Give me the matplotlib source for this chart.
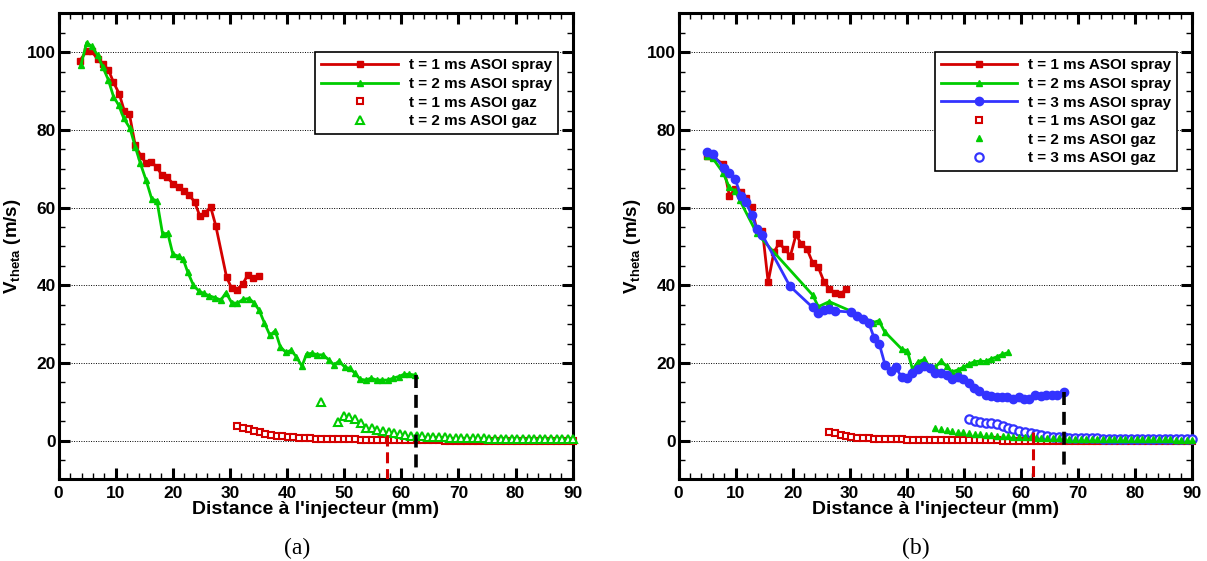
import matplotlib
matplotlib.use("Agg")
import numpy as np
import matplotlib.pyplot as plt
from matplotlib.ticker import MultipleLocator

# 1. DATA

# (a) spray profiles
a_red_spray_x = [3.7, 4.9, 5.8, 6.8, 7.7, 8.7, 9.6, 10.6, 11.5, 12.4, 13.4, 14.4, 15.3, 16.2, 17.2,
                 18.1, 19.0, 20.0, 21.0, 21.9, 22.8, 23.8, 24.7, 25.6, 26.6, 27.5, 29.4, 30.3, 31.2,
                 32.2, 33.1, 34.1, 35.0]
a_red_spray_y = [97.8, 100.4, 100.3, 98.2, 97.0, 95.5, 92.3, 89.3, 84.9, 84.0, 76.1, 73.3, 71.4, 71.8,
                 70.4, 68.3, 67.8, 66.2, 65.4, 64.4, 63.3, 61.5, 57.9, 58.5, 60.2, 55.4, 42.1, 39.2,
                 38.9, 40.3, 42.6, 41.9, 42.4]

a_green_spray_x = [3.9, 4.9, 5.8, 6.8, 7.7, 8.7, 9.6, 10.5, 11.4, 12.5, 13.4, 14.3, 15.3, 16.3, 17.2,
                   18.2, 19.1, 20.0, 21.0, 21.8, 22.6, 23.6, 24.5, 25.4, 26.4, 27.4, 28.4, 29.3, 30.3,
                   31.3, 32.3, 33.3, 34.2, 35.1, 36.0, 37.0, 37.9, 38.8, 39.8, 40.7, 41.6, 42.6, 43.4,
                   44.4, 45.3, 46.3, 47.3, 48.2, 49.1, 50.1, 51.0, 51.9, 52.8, 53.8, 54.7, 55.7, 56.6,
                   57.6, 58.6, 59.5, 60.5, 61.4, 62.3]
a_green_spray_y = [96.7, 102.5, 101.5, 99.3, 96.3, 92.9, 88.6, 86.4, 83.0, 80.4, 75.7, 71.4, 67.1, 62.2,
                   61.8, 53.2, 53.4, 48.0, 47.5, 46.7, 43.4, 40.0, 38.6, 37.9, 37.3, 36.8, 36.2, 38.1,
                   35.5, 35.4, 36.4, 36.6, 35.5, 33.6, 30.4, 27.1, 28.3, 24.2, 22.7, 23.3, 21.6, 19.2,
                   22.3, 22.5, 22.1, 22.1, 20.8, 19.5, 20.5, 18.9, 18.6, 17.3, 15.8, 15.6, 16.1, 15.6,
                   15.6, 15.6, 16.1, 16.5, 17.1, 17.1, 16.9]

# (b) spray profiles
b_red_spray_x = [4.9, 6.0, 7.8, 8.9, 9.9, 10.9, 11.8, 12.8, 13.7, 14.7, 15.7, 16.7, 17.6, 18.6, 19.6,
                 20.6, 21.5, 22.5, 23.5, 24.5, 25.5, 26.4, 27.4, 28.4, 29.4]
b_red_spray_y = [73.4, 73.1, 71.2, 63.1, 64.7, 63.9, 62.4, 60.1, 54.4, 54.1, 40.8, 48.5, 50.8, 49.4,
                 47.6, 53.1, 50.6, 49.4, 45.8, 44.6, 40.9, 39.1, 38.1, 37.8, 39.0]

b_green_spray_x = [4.9, 6.0, 7.8, 8.9, 9.9, 10.7, 13.7, 23.5, 24.5, 26.4, 30.3, 34.1, 35.1, 36.1, 39.1,
                   40.1, 41.0, 42.0, 43.0, 44.0, 45.0, 46.0, 47.0, 47.9, 48.9, 49.9, 50.9, 51.8, 52.8,
                   53.8, 54.7, 55.8, 56.7, 57.8]
b_green_spray_y = [73.3, 72.7, 69.0, 65.2, 64.3, 62.0, 53.4, 37.5, 34.5, 35.8, 33.3, 30.4, 30.9, 28.1,
                   23.6, 23.1, 18.4, 20.3, 20.9, 19.2, 18.9, 20.5, 19.1, 17.7, 18.2, 18.9, 19.7, 20.3,
                   20.5, 20.4, 21.0, 21.6, 22.2, 22.7]

b_blue_spray_x = [4.9, 6.0, 8.0, 8.9, 9.9, 10.9, 11.8, 12.8, 13.7, 14.7, 19.5, 23.5, 24.5, 25.5, 26.4,
                  27.4, 30.3, 31.3, 32.4, 33.3, 34.3, 35.2, 36.2, 37.2, 38.1, 39.1, 40.0, 41.0, 42.0,
                  43.0, 44.1, 45.0, 46.0, 47.0, 47.9, 48.9, 49.9, 50.9, 51.8, 52.7, 53.8, 54.7, 55.8,
                  56.7, 57.6, 58.7, 59.6, 60.6, 61.5, 62.5, 63.5, 64.4, 65.4, 66.4, 67.5]
b_blue_spray_y = [74.2, 73.7, 70.1, 68.8, 67.5, 63.0, 61.5, 58.1, 54.6, 52.9, 39.8, 34.3, 32.8, 33.6,
                  34.0, 33.4, 33.1, 32.1, 31.2, 30.4, 26.4, 24.8, 19.5, 17.9, 18.9, 16.3, 16.1, 17.3,
                  18.4, 19.2, 18.6, 17.3, 17.5, 16.9, 15.8, 16.3, 15.8, 14.9, 13.5, 12.8, 11.8, 11.5,
                  11.2, 11.2, 11.2, 10.8, 11.3, 10.7, 10.7, 11.8, 11.5, 11.7, 11.8, 11.8, 12.4]

# gas-phase probe positions (common grid, mm)
gaz_x = [26.4, 27.4, 28.4, 29.3, 30.3, 31.3, 32.3, 33.3, 34.2, 35.2, 36.2, 37.2, 38.2, 39.1, 40.1,
         41.1, 42.1, 43.1, 44.0, 45.0, 46.0, 47.0, 48.0, 48.9, 49.9, 50.9, 51.9, 52.9, 53.8, 54.8,
         55.8, 56.8, 57.8, 58.7, 59.7, 60.7, 61.7, 62.7, 63.6, 64.6, 65.6, 66.6, 67.6, 68.5, 69.5,
         70.5, 71.5, 72.5, 73.4, 74.4, 75.4, 76.4, 77.4, 78.3, 79.3, 80.3, 81.3, 82.3, 83.2, 84.2,
         85.2, 86.2, 87.2, 88.1, 89.1, 90.0]

# (a) gas values, starting at gaz_x[5] (red) and gaz_x[20] (green)
a_red_gaz_y = [3.9, 3.3, 3.0, 2.6, 2.1, 1.8, 1.5, 1.3, 1.1, 0.95, 0.85, 0.75, 0.7, 0.62, 0.55,
               0.5, 0.45, 0.42, 0.38, 0.35, 0.32, 0.3, 0.28, 0.26, 0.24, 0.22, 0.2, 0.18, 0.16, 0.14,
               0.12, 0.1, 0.08, 0.07, 0.06, 0.05, 0.04, 0.03, 0.02, 0.01, 0.0, 0.0, -0.01, -0.02, -0.03,
               -0.04, -0.05, -0.06, -0.07, -0.08, -0.09, -0.1, -0.1, -0.11, -0.12, -0.13, -0.14, -0.15,
               -0.16, -0.17, -0.18]
a_green_gaz_y = [10.0, np.nan, np.nan, 4.9, 6.4, 6.2, 5.5, 4.5, 3.2, 3.2, 2.7, 2.5, 2.2, 1.9, 1.6,
                 1.5, 1.3, 1.2, 1.1, 1.0, 0.95, 0.9, 0.85, 0.8, 0.75, 0.7, 0.7, 0.65, 0.6, 0.6, 0.55,
                 0.55, 0.5, 0.5, 0.5, 0.45, 0.45, 0.4, 0.4, 0.4, 0.35, 0.35, 0.35, 0.3, 0.3, 0.3]

# (b) gas values, starting at gaz_x[0] (red), gaz_x[19] (green), gaz_x[25] (blue)
b_red_gaz_y = [2.2, 1.9, 1.5, 1.2, 0.95, 0.8, 0.7, 0.6, 0.5, 0.45, 0.4, 0.35, 0.35, 0.3, 0.28, 0.25,
               0.22, 0.2, 0.18, 0.16, 0.15, 0.14, 0.12, 0.11, 0.1, 0.09, 0.08, 0.07, 0.06, 0.05, 0.04,
               0.03, 0.02, 0.01, 0.0, 0.0, -0.02, -0.03, -0.04, -0.05, -0.06, -0.07, -0.08, -0.09,
               -0.1, -0.1, -0.11, -0.12, -0.12, -0.13, -0.14, -0.14, -0.15, -0.15, -0.16, -0.16,
               -0.17, -0.17, -0.18, -0.18, -0.19, -0.19, -0.2, -0.2, -0.2, -0.2]
b_green_gaz_y = [3.2, 2.9, 2.7, 2.5, 2.3, 2.1, 1.9, 1.8, 1.6, 1.5, 1.4, 1.3, 1.2, 1.1, 1.0, 0.95,
                 0.9, 0.85, 0.8, 0.75, 0.7, 0.65, 0.6, 0.6, 0.55, 0.55, 0.5, 0.5, 0.45, 0.45, 0.45,
                 0.4, 0.4, 0.4, 0.35, 0.35, 0.35, 0.35, 0.3, 0.3, 0.3, 0.3, 0.3, 0.25, 0.25, 0.25, 0.25]
b_blue_gaz_y = [5.5, 5.1, 4.9, 4.6, 4.5, 4.2, 3.8, 3.3, 2.9, 2.5, 2.1, 1.9, 1.6, 1.4, 1.2, 1.0, 0.9,
                0.85, 0.8, 0.75, 0.7, 0.65, 0.6, 0.6, 0.55, 0.55, 0.5, 0.5, 0.5, 0.45, 0.45, 0.45, 0.4,
                0.4, 0.4, 0.4, 0.35, 0.35, 0.35, 0.35, 0.35]

# vertical dashed markers: (x, y_top, y_bottom)
a_black_dash = (62.5, 17.0, -7.0)
a_red_dash = (57.4, 1.5, -10.0)
b_black_dash = (67.5, 12.4, -7.0)
b_red_dash = (62.1, 2.2, -10.0)

# 2. STYLE

RED = '#d40000'
GREEN = '#00cc00'
BLUE = '#3333ff'

plt.rcParams['font.family'] = ['Liberation Sans', 'DejaVu Sans']
plt.rcParams['font.weight'] = 'bold'
plt.rcParams['mathtext.fontset'] = 'custom'
plt.rcParams['mathtext.bf'] = 'Liberation Sans:bold'
plt.rcParams['mathtext.rm'] = 'Liberation Sans:bold'


def style_axes(ax):
    ax.set_xlim(0, 90)
    ax.set_ylim(-10, 110)
    ax.set_xticks(range(0, 91, 10))
    ax.set_yticks(range(0, 101, 20))
    ax.xaxis.set_minor_locator(MultipleLocator(2))
    ax.yaxis.set_minor_locator(MultipleLocator(5))
    ax.tick_params(which='both', direction='in', top=True, right=True, labelsize=12.5)
    ax.tick_params(which='major', length=8, width=2.2)
    ax.tick_params(which='minor', length=4, width=1)
    ax.tick_params(axis='y', pad=2)
    ax.tick_params(axis='x', pad=5)
    for s in ax.spines.values():
        s.set_linewidth(2.2)
    ax.yaxis.grid(True, which='major', linestyle=(0, (1, 1.5)), color='black', linewidth=0.7)
    ax.set_axisbelow(True)
    ax.set_xlabel("Distance à l'injecteur (mm)", fontsize=14, fontweight='bold', labelpad=0)
    ax.set_ylabel(r'$\mathbf{V}_{\mathbf{theta}}$ (m/s)', fontsize=13.5, fontweight='bold', labelpad=3)


def dash_line(ax, spec, color, lw):
    x, y0, y1 = spec
    ax.plot([x, x], [y0, y1], color=color, linewidth=lw, linestyle=(0, (3.6, 1.9)),
            zorder=6, clip_on=True)


def add_legend(ax, order):
    h, l = ax.get_legend_handles_labels()
    leg = ax.legend([h[i] for i in order], [l[i] for i in order],
                    loc='upper right', bbox_to_anchor=(0.971, 0.9167), borderaxespad=0,
                    numpoints=1, handlelength=5, handletextpad=0.7, labelspacing=0.3,
                    borderpad=0.4, fancybox=False, framealpha=1, edgecolor='black',
                    prop={'weight': 'bold', 'size': 11})
    leg.get_frame().set_linewidth(1.2)


# 3. FIGURE

fig = plt.figure(figsize=(12.07, 5.61), dpi=100)
ax_a = fig.add_axes([0.0486, 0.1453, 0.4259, 0.8307])
ax_b = fig.add_axes([0.5622, 0.1453, 0.4254, 0.8307])

# ---- panel (a)
ax = ax_a
ax.plot(gaz_x[5:], a_red_gaz_y, linestyle='none', marker='s', ms=4.5, mfc='white', mec=RED,
        mew=1.5, zorder=3, clip_on=False, label='t = 1 ms ASOI gaz')
ax.plot(gaz_x[20:], a_green_gaz_y, linestyle='none', marker='^', ms=5.5, mfc='white', mec=GREEN,
        mew=1.5, zorder=3.2, clip_on=False, label='t = 2 ms ASOI gaz')
ax.plot(a_red_spray_x, a_red_spray_y, color=RED, lw=2, marker='s', ms=4.5, zorder=4,
        label='t = 1 ms ASOI spray')
ax.plot(a_green_spray_x, a_green_spray_y, color=GREEN, lw=2, marker='^', ms=4.5, zorder=4.2,
        label='t = 2 ms ASOI spray')
dash_line(ax, a_black_dash, 'black', 2.6)
dash_line(ax, a_red_dash, RED, 2.2)
style_axes(ax)
add_legend(ax, [2, 3, 0, 1])

# ---- panel (b)
ax = ax_b
ax.plot(gaz_x, b_red_gaz_y, linestyle='none', marker='s', ms=4.5, mfc='white', mec=RED,
        mew=1.5, zorder=3, clip_on=False, label='t = 1 ms ASOI gaz')
ax.plot(gaz_x[25:], b_blue_gaz_y, linestyle='none', marker='o', ms=6, mfc='white', mec=BLUE,
        mew=1.6, zorder=3.1, clip_on=False, label='t = 3 ms ASOI gaz')
ax.plot(gaz_x[19:], b_green_gaz_y, linestyle='none', marker='^', ms=5, mfc=GREEN, mec=GREEN,
        mew=1.0, zorder=3.2, clip_on=False, label='t = 2 ms ASOI gaz')
ax.plot(b_red_spray_x, b_red_spray_y, color=RED, lw=2, marker='s', ms=4.5, zorder=4,
        label='t = 1 ms ASOI spray')
ax.plot(b_green_spray_x, b_green_spray_y, color=GREEN, lw=2, marker='^', ms=4.5, zorder=4.1,
        label='t = 2 ms ASOI spray')
ax.plot(b_blue_spray_x, b_blue_spray_y, color=BLUE, lw=2, marker='o', ms=6, zorder=4.2,
        label='t = 3 ms ASOI spray')
dash_line(ax, b_black_dash, 'black', 2.6)
dash_line(ax, b_red_dash, RED, 2.2)
style_axes(ax)
add_legend(ax, [3, 4, 5, 0, 2, 1])

# panel captions
fig.text(0.246, 0.023, '(a)', ha='center', va='center', fontsize=17,
         family='Liberation Serif', fontweight='normal')
fig.text(0.759, 0.023, '(b)', ha='center', va='center', fontsize=17,
         family='Liberation Serif', fontweight='normal')

fig.savefig('out.png', dpi=100)
